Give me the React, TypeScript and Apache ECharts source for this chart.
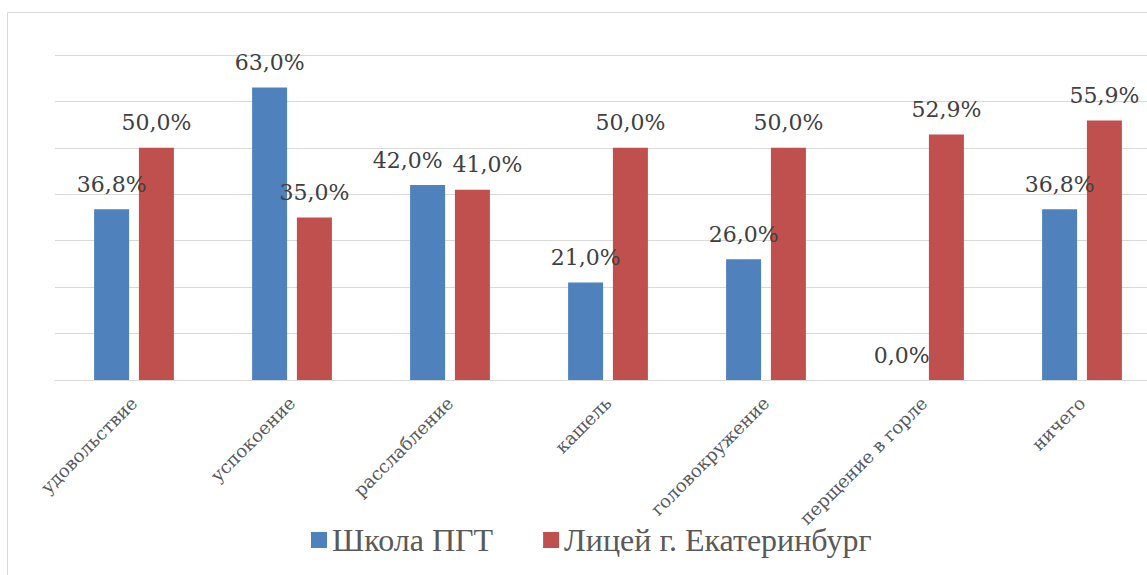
import React, { useEffect, useRef } from "react";
import * as echarts from "echarts";

const categories = [
  "удовольствие",
  "успокоение",
  "расслабление",
  "кашель",
  "головокружение",
  "перщение в горле",
  "ничего",
];
const seriesNames = ["Школа ПГТ", "Лицей г. Екатеринбург"];
const schoolValues = [36.8, 63.0, 42.0, 21.0, 26.0, 0.0, 36.8];
const lyceumValues = [50.0, 35.0, 41.0, 50.0, 50.0, 52.9, 55.9];

const fmt = (v: number) => v.toFixed(1).replace(".", ",") + "%";
const SERIF_LABEL = "'DejaVu Serif', serif";
const SERIF_LEGEND = "'Liberation Serif', 'Times New Roman', serif";

export default function App() {
  const ref = useRef<HTMLDivElement>(null);
  useEffect(() => {
    if (!ref.current) return;
    const chart = echarts.init(ref.current, null, { renderer: "svg" });
    const labelStyle = {
      show: true,
      position: "top" as const,
      distance: 14,
      fontFamily: SERIF_LABEL,
      fontSize: 22,
      color: "#404040",
      formatter: (p: any) => fmt(p.value),
    };
    // the overlapping pair in the 3rd category is pushed apart, as in the reference
    const shifted = (vals: number[], dx: number) =>
      vals.map((v, i) =>
        i === 2 ? { value: v, label: { offset: [dx, 0] } } : v
      );
    chart.setOption({
      animation: false,
      backgroundColor: "#ffffff",
      graphic: [
        {
          type: "rect",
          shape: { x: 7.5, y: 12.5, width: 1300, height: 800 },
          style: { fill: "none", stroke: "#d9d9d9", lineWidth: 1 },
          silent: true,
          z: -10,
        },
      ],
      legend: {
        left: 311,
        top: 524,
        padding: 0,
        icon: "rect",
        itemWidth: 16,
        itemHeight: 16,
        itemGap: 50,
        textStyle: {
          fontFamily: SERIF_LEGEND,
          fontSize: 32,
          color: "#595959",
        },
        data: seriesNames,
      },
      grid: { left: 55, right: 14, top: 55, bottom: 195, containLabel: false },
      xAxis: {
        type: "category",
        data: categories,
        axisLine: { lineStyle: { color: "#d9d9d9", width: 1 } },
        axisTick: { show: false },
        axisLabel: {
          rotate: 45,
          margin: 20,
          interval: 0,
          fontFamily: SERIF_LABEL,
          fontSize: 18,
          color: "#595959",
        },
      },
      yAxis: {
        type: "value",
        min: 0,
        max: 70,
        interval: 10,
        axisLabel: { show: false },
        axisLine: { show: false },
        axisTick: { show: false },
        splitLine: { lineStyle: { color: "#d9d9d9", width: 1 } },
      },
      series: [
        {
          name: seriesNames[0],
          type: "bar",
          data: shifted(schoolValues, -20),
          barWidth: 35,
          barGap: "28%",
          itemStyle: { color: "#4f81bd" },
          label: labelStyle,
        },
        {
          name: seriesNames[1],
          type: "bar",
          data: shifted(lyceumValues, 15),
          barWidth: 35,
          barGap: "28%",
          itemStyle: { color: "#c0504d" },
          label: labelStyle,
        },
      ],
    });
    return () => chart.dispose();
  }, []);
  return (
    <div
      style={{
        position: "fixed",
        left: 0,
        top: 0,
        width: 1147,
        height: 575,
        overflow: "hidden",
      }}
    >
      <div ref={ref} style={{ width: 1175, height: 575 }} />
    </div>
  );
}
